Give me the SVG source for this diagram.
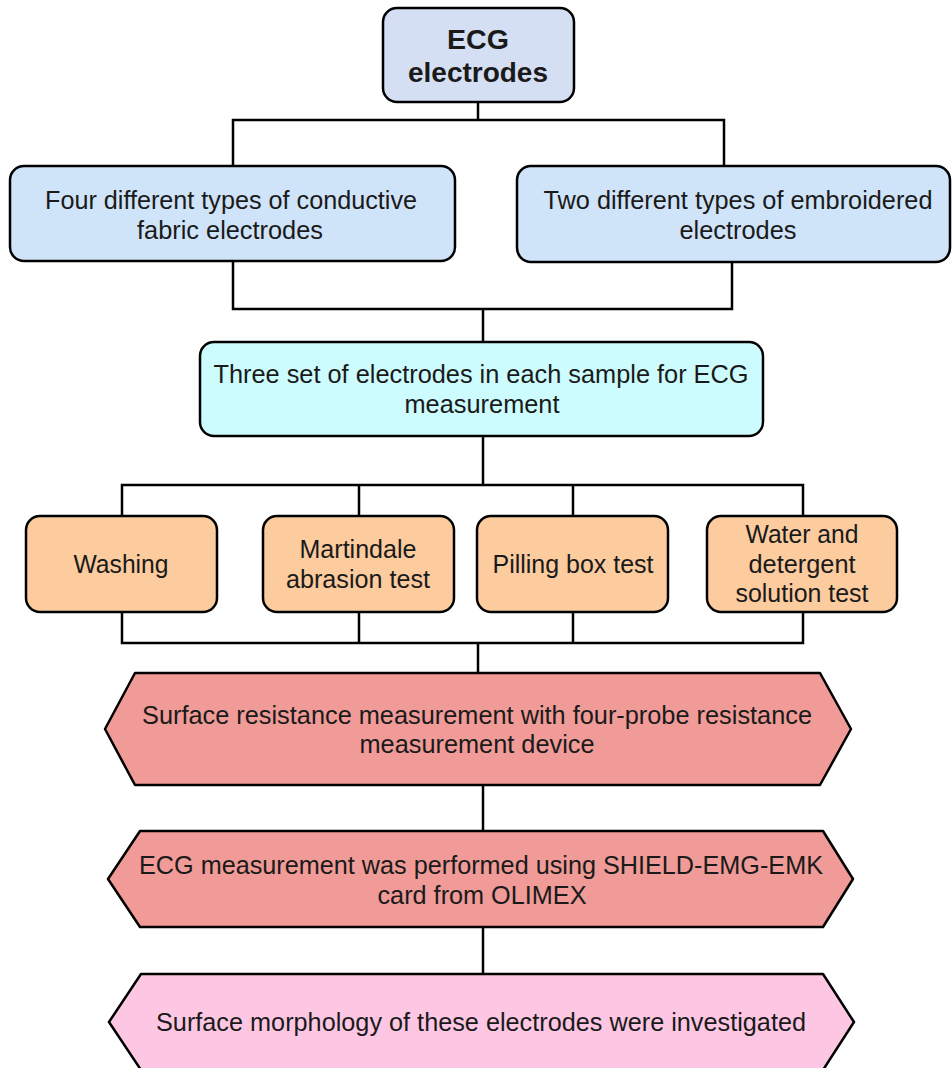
<svg xmlns="http://www.w3.org/2000/svg" width="952" height="1068" viewBox="0 0 952 1068">
<style>
.n{stroke:#000;stroke-width:2.5;stroke-linejoin:round}
.c{fill:none;stroke:#000;stroke-width:2.5}
text{font-family:"Liberation Sans",Arial,sans-serif;font-size:25px;fill:#1a1a1a;text-anchor:middle}
.b{font-weight:bold;font-size:28px}
</style>
<rect width="952" height="1068" fill="#fff"/>
<g id="connectors" class="c">
<polyline points="478,102 478,120"/>
<polyline points="233,166 233,120 724,120 724,166"/>
<polyline points="233,261 233,309 732,309 732,262"/>
<polyline points="483,309 483,342"/>
<polyline points="483,436 483,485"/>
<polyline points="122,516 122,485 803,485 803,516"/>
<polyline points="359,485 359,516"/>
<polyline points="573,485 573,516"/>
<polyline points="122,612 122,643 803,643 803,612"/>
<polyline points="359,612 359,643"/>
<polyline points="573,612 573,643"/>
<polyline points="478,643 478,673"/>
<polyline points="483,785 483,831"/>
<polyline points="483,927 483,974"/>
</g>
<g id="ecg">
<rect class="n" x="383" y="8" width="191" height="94" rx="14" fill="#d5dff3"/>
<text class="b" x="478" y="49" textLength="62" lengthAdjust="spacingAndGlyphs">ECG</text>
<text class="b" x="478" y="82" textLength="140" lengthAdjust="spacingAndGlyphs">electrodes</text>
</g>
<g id="fabric">
<rect class="n" x="10" y="166" width="445" height="95" rx="14" fill="#cfe3f9"/>
<text x="231" y="209" textLength="372" lengthAdjust="spacingAndGlyphs">Four different types of conductive</text>
<text x="230" y="239" textLength="186" lengthAdjust="spacingAndGlyphs">fabric electrodes</text>
</g>
<g id="embroidered">
<rect class="n" x="517" y="166" width="433" height="96" rx="14" fill="#cfe3f9"/>
<text x="738" y="209" textLength="389" lengthAdjust="spacingAndGlyphs">Two different types of embroidered</text>
<text x="738" y="239" textLength="117" lengthAdjust="spacingAndGlyphs">electrodes</text>
</g>
<g id="sets">
<rect class="n" x="200" y="342" width="563" height="94" rx="14" fill="#ccfcfd"/>
<text x="481" y="383" textLength="535" lengthAdjust="spacingAndGlyphs">Three set of electrodes in each sample for ECG</text>
<text x="482" y="413" textLength="155" lengthAdjust="spacingAndGlyphs">measurement</text>
</g>
<g id="washing">
<rect class="n" x="26" y="516" width="191" height="96" rx="14" fill="#fccb9e"/>
<text x="121" y="573" textLength="95" lengthAdjust="spacingAndGlyphs">Washing</text>
</g>
<g id="martindale">
<rect class="n" x="263" y="516" width="191" height="96" rx="14" fill="#fccb9e"/>
<text x="358" y="558" textLength="117" lengthAdjust="spacingAndGlyphs">Martindale</text>
<text x="358" y="588" textLength="144" lengthAdjust="spacingAndGlyphs">abrasion test</text>
</g>
<g id="pilling">
<rect class="n" x="477" y="516" width="191" height="96" rx="14" fill="#fccb9e"/>
<text x="573" y="573" textLength="161" lengthAdjust="spacingAndGlyphs">Pilling box test</text>
</g>
<g id="water">
<rect class="n" x="707" y="516" width="190" height="96" rx="14" fill="#fccb9e"/>
<text x="802" y="543" textLength="113" lengthAdjust="spacingAndGlyphs">Water and</text>
<text x="802" y="573" textLength="107" lengthAdjust="spacingAndGlyphs">detergent</text>
<text x="802" y="602" textLength="133" lengthAdjust="spacingAndGlyphs">solution test</text>
</g>
<g id="resistance">
<polygon class="n" points="135,673 820,673 851,729 820,785 135,785 105,729" fill="#f09b97"/>
<text x="477" y="724" textLength="670" lengthAdjust="spacingAndGlyphs">Surface resistance measurement with four-probe resistance</text>
<text x="477" y="753" textLength="235" lengthAdjust="spacingAndGlyphs">measurement device</text>
</g>
<g id="ecgmeas">
<polygon class="n" points="140,831 823,831 853,879 823,927 140,927 108,879" fill="#f09b97"/>
<text x="481" y="874" textLength="684" lengthAdjust="spacingAndGlyphs">ECG measurement was performed using SHIELD-EMG-EMK</text>
<text x="482" y="904" textLength="209" lengthAdjust="spacingAndGlyphs">card from OLIMEX</text>
</g>
<g id="morphology">
<polygon class="n" points="141,974 823,974 854,1022 823,1070 141,1070 109,1022" fill="#fdc7e4"/>
<text x="481" y="1031" textLength="650" lengthAdjust="spacingAndGlyphs">Surface morphology of these electrodes were investigated</text>
</g>
</svg>
